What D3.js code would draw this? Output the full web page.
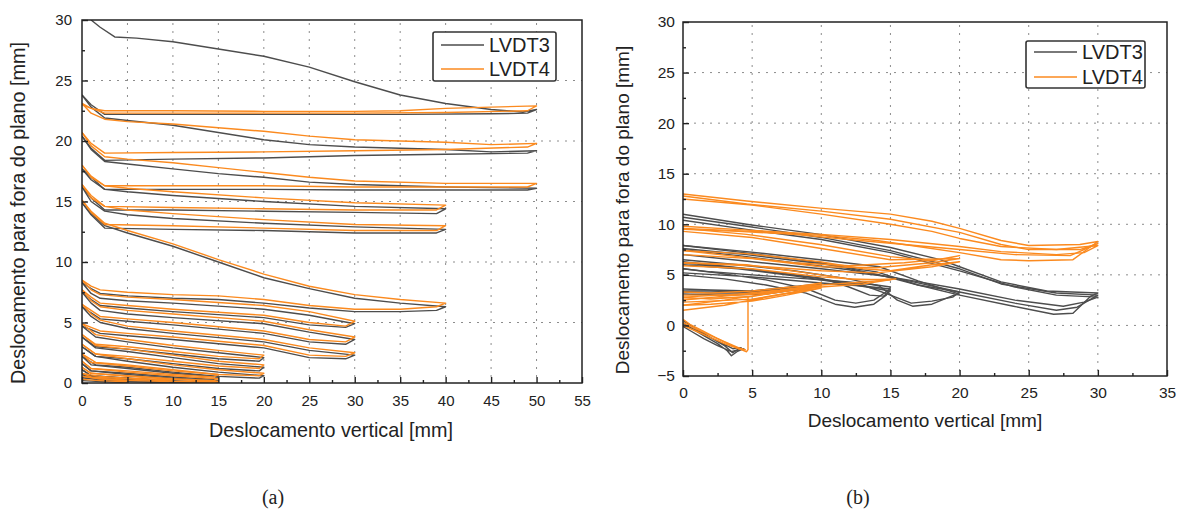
<!DOCTYPE html>
<html>
<head>
<meta charset="utf-8">
<script src="https://cdn.jsdelivr.net/npm/d3@7"></script>
<style>
  html, body { margin: 0; padding: 0; background: #fff; }
  svg { display: block; }
  text { font-family: "Liberation Sans", Arial, sans-serif; fill: #222; }
  .caption { font-family: "Liberation Serif", "Times New Roman", serif; }
</style>
</head>
<body>
<svg id="fig" width="1184" height="514"></svg>
<script>
// ---- Panel (a): out-of-plane vs vertical displacement, cycles up to 50 mm ----
const seriesNames = ["LVDT3", "LVDT4"];
const xTicksA = [0, 5, 10, 15, 20, 25, 30, 35, 40, 45, 50, 55];
const yTicksA = [0, 5, 10, 15, 20, 25, 30];
const xTicksB = [0, 5, 10, 15, 20, 25, 30, 35];
const yTicksB = [-5, 0, 5, 10, 15, 20, 25, 30];

// LVDT3, panel (a): one polyline per loading cycle, [vertical, out-of-plane] in mm
const a3_50 = [
  [[1,30],[2,29.4],[3.6,28.6],[6,28.5],[10,28.2],[15,27.6],[20,27.0],[25,26.1],[30,24.9],[35,23.8],[40,23.1],[45,22.6],[48.5,22.4],[50,22.6],[49,22.3],[45,22.25],[35,22.2],[20,22.2],[5,22.2],[2.5,22.2],[1,23.0],[0,23.8]],
  [[0,23.8],[1,22.8],[2.5,21.9],[5,21.7],[10,21.3],[15,20.7],[20,20.1],[25,19.7],[30,19.5],[40,19.3],[45,19.1],[50,19.2],[49,19.0],[40,18.9],[30,18.8],[20,18.6],[10,18.5],[2.5,18.4],[1,19.4],[0,20.4]],
  [[0,20.4],[1,19.3],[2.5,18.3],[5,18.1],[10,17.7],[15,17.3],[20,17.0],[25,16.6],[30,16.4],[40,16.2],[50,16.1],[49,15.95],[40,15.95],[30,15.95],[20,16.0],[10,16.0],[2.5,16.0],[1,17.0],[0,17.7]]
];
const a3_40 = [
  [[0,17.7],[1,16.8],[2.5,16.0],[5,15.8],[10,15.5],[20,15.0],[30,14.6],[40,14.4],[39,14.0],[30,14.1],[20,14.2],[10,14.3],[2.5,14.3],[1,15.3],[0,16.2]],
  [[0,16.2],[1,15.0],[2.5,14.2],[5,13.9],[10,13.6],[20,13.2],[30,12.9],[40,12.7],[39,12.4],[30,12.4],[20,12.6],[10,12.7],[2.5,12.8],[1,13.9],[0,14.9]],
  [[0,14.9],[1,14.0],[2.5,13.0],[5,12.4],[10,11.3],[15,10.0],[20,8.7],[25,7.8],[30,7.0],[35,6.6],[40,6.3],[39,6.0],[35,5.9],[30,5.9],[25,6.2],[20,6.6],[15,6.9],[10,7.0],[5,7.2],[2,7.4],[1,7.8],[0,8.3]]
];
const a3_30 = [
  [[0,8.3],[1,7.4],[2,7.0],[5,6.8],[10,6.6],[20,6.1],[25,5.6],[30,4.9],[29,4.6],[25,4.8],[20,5.4],[10,5.9],[5,6.2],[2,6.4],[1,6.9],[0,7.5]],
  [[0,7.5],[1,6.6],[2,6.0],[5,5.7],[10,5.4],[20,4.9],[25,4.2],[30,3.6],[29,3.2],[25,3.4],[20,4.1],[10,4.8],[5,5.1],[2,5.3],[1,5.8],[0,6.3]],
  [[0,6.3],[1,5.5],[2,5.0],[5,4.5],[10,4.1],[20,3.4],[25,2.7],[30,2.3],[29,2.0],[25,2.1],[20,2.9],[10,3.6],[5,3.9],[2,4.1],[1,4.4],[0,4.7]]
];
const a3_20 = [
  [[0,4.7],[1.5,3.8],[5,3.4],[10,2.9],[15,2.5],[20,2.1],[19.5,1.8],[15,2.0],[10,2.4],[5,2.8],[1.5,3.0],[0,3.8]],
  [[0,3.8],[1.5,2.9],[5,2.6],[10,2.1],[15,1.6],[20,1.3],[19.5,1.0],[15,1.2],[10,1.6],[5,2.0],[1.5,2.2],[0,3.0]],
  [[0,3.0],[1.5,2.2],[5,1.8],[10,1.3],[15,0.9],[20,0.6],[19.5,0.4],[15,0.55],[10,0.9],[5,1.3],[1.5,1.5],[0,2.2]]
];
const a3_15 = [
  [[0,2.2],[1,1.5],[5,1.2],[10,0.8],[15,0.5],[14.5,0.3],[10,0.5],[5,0.8],[1,1.0],[0,1.6]],
  [[0,1.6],[1,1.0],[5,0.7],[10,0.4],[15,0.2],[14.5,0.05],[10,0.2],[5,0.4],[1,0.6],[0,1.1]],
  [[0,1.1],[1,0.6],[5,0.4],[10,0.15],[15,0.02],[14.5,-0.05],[10,0.05],[5,0.2],[1,0.4],[0,0.7]],
  [[0,0.7],[2,0.45],[5,0.3],[10,0.1],[9.5,0.02],[5,0.12],[2,0.25],[0,0.45]],
  [[0,0.45],[2,0.3],[5,0.12],[4.8,0.04],[2,0.12],[0,0.2]]
];

// LVDT4, panel (a)
const a4_50 = [
  [[0,23.0],[1,22.7],[2.5,22.5],[10,22.5],[20,22.45],[30,22.45],[35,22.5],[40,22.7],[45,22.8],[50,22.9],[49,22.5],[40,22.35],[30,22.3],[20,22.3],[10,22.3],[2.5,22.3],[1,22.7],[0,23.1]],
  [[0,23.1],[1,22.3],[2.5,21.8],[5,21.6],[10,21.4],[15,21.1],[20,20.8],[25,20.4],[30,20.1],[40,19.9],[45,19.7],[50,19.8],[49,19.5],[40,19.3],[30,19.2],[20,19.1],[10,19.05],[2.5,19.0],[1,19.8],[0,20.7]],
  [[0,20.7],[1,19.6],[2.5,18.7],[5,18.5],[10,18.2],[15,17.8],[20,17.4],[25,17.0],[30,16.7],[40,16.5],[50,16.5],[49,16.2],[40,16.2],[30,16.2],[20,16.3],[10,16.3],[2.5,16.3],[1,17.1],[0,18.0]]
];
const a4_40 = [
  [[0,18.0],[1,17.0],[2.5,16.3],[5,16.1],[10,15.8],[20,15.3],[30,14.9],[40,14.7],[39,14.3],[30,14.3],[20,14.4],[10,14.5],[2.5,14.6],[1,15.5],[0,16.4]],
  [[0,16.4],[1,15.3],[2.5,14.6],[5,14.3],[10,14.0],[20,13.5],[30,13.1],[40,13.0],[39,12.6],[30,12.6],[20,12.8],[10,13.0],[2.5,13.1],[1,14.1],[0,15.1]],
  [[0,15.1],[1,14.2],[2.5,13.2],[5,12.6],[10,11.5],[15,10.2],[20,9.0],[25,8.0],[30,7.3],[35,6.9],[40,6.6],[39,6.3],[35,6.1],[30,6.1],[25,6.4],[20,6.9],[15,7.2],[10,7.3],[5,7.5],[2,7.7],[1,8.0],[0,8.5]]
];
const a4_30 = [
  [[0,8.5],[1,7.7],[2,7.3],[5,7.1],[10,6.9],[20,6.4],[25,5.9],[30,5.1],[29,4.7],[25,5.0],[20,5.6],[10,6.1],[5,6.4],[2,6.6],[1,7.1],[0,7.7]],
  [[0,7.7],[1,6.8],[2,6.3],[5,6.0],[10,5.7],[20,5.1],[25,4.4],[30,3.8],[29,3.4],[25,3.6],[20,4.3],[10,5.0],[5,5.3],[2,5.5],[1,6.0],[0,6.5]],
  [[0,6.5],[1,5.7],[2,5.2],[5,4.7],[10,4.3],[20,3.6],[25,2.9],[30,2.5],[29,2.2],[25,2.3],[20,3.1],[10,3.8],[5,4.1],[2,4.3],[1,4.6],[0,4.9]]
];
const a4_20 = [
  [[0,4.9],[1.5,4.0],[5,3.6],[10,3.1],[15,2.7],[20,2.3],[19.5,2.0],[15,2.2],[10,2.6],[5,3.0],[1.5,3.2],[0,4.0]],
  [[0,4.0],[1.5,3.1],[5,2.8],[10,2.3],[15,1.8],[20,1.5],[19.5,1.2],[15,1.4],[10,1.8],[5,2.2],[1.5,2.4],[0,3.2]],
  [[0,3.2],[1.5,2.4],[5,2.0],[10,1.5],[15,1.1],[20,0.8],[19.5,0.6],[15,0.7],[10,1.1],[5,1.5],[1.5,1.7],[0,2.4]]
];
const a4_15 = [
  [[0,2.4],[1,1.7],[5,1.4],[10,1.0],[15,0.7],[14.5,0.5],[10,0.7],[5,1.0],[1,1.2],[0,1.8]],
  [[0,1.8],[1,1.2],[5,0.9],[10,0.6],[15,0.35],[14.5,0.2],[10,0.35],[5,0.6],[1,0.8],[0,1.3]],
  [[0,1.3],[1,0.8],[5,0.55],[10,0.3],[15,0.12],[14.5,0.05],[10,0.15],[5,0.35],[1,0.5],[0,0.8]],
  [[0,0.8],[2,0.55],[5,0.4],[10,0.25],[9.5,0.12],[5,0.22],[2,0.35],[0,0.55]],
  [[0,0.55],[2,0.35],[5,0.2],[4.8,0.1],[2,0.2],[0,0.3]]
];

// ---- Panel (b): cycles up to 30 mm ----
const b3_05 = [
  [[0,0.3],[0.5,-0.2],[1.5,-1.0],[2.5,-1.8],[3.2,-2.5],[3.5,-3.0],[3.9,-2.6],[4.4,-2.3],[4.0,-2.4],[3.5,-2.6],[2.5,-2.0],[1.5,-1.3],[0.5,-0.5],[0,-0.1]],
  [[0,0.5],[1,-0.4],[2,-1.2],[3,-2.0],[3.6,-2.7],[4.2,-2.2],[3.6,-2.3],[2.6,-1.6],[1.5,-0.9],[0.5,-0.2],[0,0.1]]
];
const b3_10 = [
  [[0,3.4],[2,3.4],[4.6,3.3],[7,3.6],[10,4.0],[9,3.7],[6,3.1],[3,3.0],[0,3.1]],
  [[0,3.3],[2,3.2],[5,3.2],[8,3.8],[10,4.1],[8.5,3.9],[5,3.4],[2,3.5],[0,3.6]]
];
const b3_15 = [
  [[0,5.0],[3,4.6],[6,4.0],[8.9,3.2],[11,2.1],[12.4,1.8],[13.8,2.1],[14.7,3.0],[15,3.8],[14,4.0],[12,4.3],[9,4.6],[5,5.0],[2,5.3],[0,5.6]],
  [[0,5.6],[3,5.1],[6,4.5],[9,3.6],[11,2.5],[12.5,2.2],[13.8,2.5],[15,3.6],[13,3.9],[10,4.2],[5,4.8],[0,5.2]],
  [[0,6.2],[4.6,5.6],[9.9,4.7],[12,3.8],[13.5,3.0],[14.5,2.9],[15,3.4],[12,4.1],[8,4.9],[4,5.6],[0,6.0]]
];
const b3_20 = [
  [[0,7.9],[4.6,7.3],[9.9,6.5],[14.2,5.8],[17,4.4],[20,3.1],[19.6,3.0],[18,2.1],[16.6,1.9],[15.5,2.5],[14.2,3.9],[12,4.6],[8,5.4],[4,6.0],[0,6.5]],
  [[0,7.6],[4.6,7.0],[10,6.1],[14,5.3],[17,4.0],[20,3.3],[19.5,2.8],[18,2.4],[16.5,2.2],[15,3.0],[13,4.0],[8,5.0],[4,5.7],[0,6.3]]
];
const b3_30 = [
  [[0,11.0],[4.6,10.0],[9.9,9.0],[15,7.7],[18.6,6.5],[20,5.8],[23,4.3],[26.3,3.4],[30,3.2],[29.5,2.9],[28.5,1.6],[28.2,1.2],[26.8,1.1],[23.9,1.9],[20,3.0],[17,4.0],[14.2,5.0],[10,6.2],[5,7.1],[0,7.9]],
  [[0,10.7],[4.6,9.8],[10,8.7],[15,7.4],[20,5.6],[23,4.1],[27,3.2],[30,3.0],[29.5,2.6],[28.5,1.8],[27,1.5],[24,2.2],[20,3.3],[16,4.5],[12,5.5],[8,6.2],[4,6.9],[0,7.5]],
  [[0,10.4],[4.6,9.5],[10,8.5],[15,7.2],[20,5.4],[24,3.8],[27,3.0],[30,2.8],[29,2.3],[27.5,1.9],[24,2.5],[20,3.6],[15,4.8],[10,5.6],[5,6.3],[0,7.0]]
];

const b4_05 = [
  [[0,0.6],[0.5,0.1],[1.5,-0.6],[2.5,-1.3],[3.5,-2.0],[4.2,-2.4],[4.6,-2.6],[4.7,-2.4],[4.7,0.0],[4.7,2.8]],
  [[0,0.3],[1,-0.4],[2,-1.0],[3,-1.6],[4,-2.2],[4.5,-2.4],[4.0,-2.3],[3,-1.8],[2,-1.2],[1,-0.6],[0,0.0]]
];
const b4_10 = [
  [[0,2.6],[2,2.7],[4.7,2.8],[7,3.3],[10,4.0],[9,3.8],[6,3.1],[3,2.5],[0,2.0]],
  [[0,2.0],[2,2.1],[5,2.4],[7.5,3.0],[10,3.7],[9,3.5],[6,2.8],[3,2.0],[0,1.5]],
  [[0,3.0],[2,3.0],[5,3.1],[8,3.6],[10,4.2],[8.5,3.9],[5,3.4],[2,3.2],[0,3.3]],
  [[0,2.3],[2,2.4],[5,2.6],[8,3.3],[10,3.9],[8,3.5],[5,2.9],[2,2.6],[0,2.8]]
];
const b4_15 = [
  [[0,6.2],[4.6,6.0],[10,5.0],[12,4.6],[15,4.5],[13,4.3],[10,4.0],[7,3.5],[4,3.1],[0,2.8]],
  [[0,5.9],[5,5.6],[10,4.8],[13,4.5],[15.4,4.6],[13,4.1],[10,3.8],[6,3.2],[3,2.9],[0,2.5]]
];
const b4_20 = [
  [[0,9.6],[4.6,9.0],[9.9,8.0],[15,6.8],[18,6.4],[20,6.9],[19,6.6],[16,6.2],[12,5.9],[8,6.2],[4,6.8],[0,7.4]],
  [[0,9.3],[5,8.7],[10,7.6],[15,6.5],[20,6.6],[18,6.2],[14,5.7],[10,5.8],[5,6.6],[0,7.0]],
  [[0,7.4],[4.6,7.1],[9.9,6.3],[13,5.6],[15,5.4],[18,6.0],[20,6.3],[18,5.8],[14,5.2],[10,5.4],[5,5.9],[0,6.2]]
];
const b4_30 = [
  [[0,13.0],[4.6,12.3],[9.9,11.6],[15,11.0],[18,10.3],[20,9.6],[23,8.4],[25,7.9],[28.7,8.0],[30,8.3],[29.5,7.8],[28.2,6.5],[25,6.4],[23,6.5],[20,7.2],[17,7.8],[14,8.4],[10,8.9],[5,9.3],[0,9.6]],
  [[0,12.8],[4.6,12.0],[10,11.3],[15,10.5],[20,9.2],[23,8.0],[25,7.5],[28.7,7.5],[30,8.1],[29,7.5],[28,6.9],[24,7.0],[20,7.5],[16,8.0],[12,8.5],[8,9.0],[4,9.3],[0,9.5]],
  [[0,12.5],[5,11.9],[10,11.0],[15,10.0],[18,9.3],[20,8.6],[23,7.8],[27,7.5],[30,7.9],[29,7.2],[27,7.0],[23,7.3],[20,7.8],[15,8.5],[10,9.0],[5,9.4],[0,9.8]]
];

const colors = { LVDT3: "#4d4d4d", LVDT4: "#fb8a1f" };

const svg = d3.select("#fig");

function panel(cfg) {
  const x = d3.scaleLinear().domain(cfg.xDomain).range([cfg.left, cfg.right]);
  const y = d3.scaleLinear().domain(cfg.yDomain).range([cfg.bottom, cfg.top]);
  const g = svg.append("g");
  const clipId = "clip-" + cfg.id;
  g.append("clipPath").attr("id", clipId).append("rect")
    .attr("x", cfg.left).attr("y", cfg.top)
    .attr("width", cfg.right - cfg.left).attr("height", cfg.bottom - cfg.top);

  // dotted grid at the major ticks
  const grid = g.append("g").attr("stroke", "#8c8c8c").attr("stroke-width", 1)
    .attr("stroke-dasharray", "2,6");
  grid.selectAll("line.v").data(cfg.xTicks.filter(v => v > cfg.xDomain[0] && v < cfg.xDomain[1]))
    .join("line").attr("class", "v")
    .attr("x1", d => x(d)).attr("x2", d => x(d)).attr("y1", cfg.top + 3).attr("y2", cfg.bottom);
  grid.selectAll("line.h").data(cfg.yTicks.filter(v => v > cfg.yDomain[0] && v < cfg.yDomain[1]))
    .join("line").attr("class", "h")
    .attr("y1", d => y(d)).attr("y2", d => y(d)).attr("x1", cfg.left + 3).attr("x2", cfg.right);

  // data curves
  const line = d3.line().x(d => x(d[0])).y(d => y(d[1]));
  const plot = g.append("g").attr("clip-path", `url(#${clipId})`);
  cfg.series.forEach(s => {
    plot.append("g").selectAll("path").data(s.loops).join("path")
      .attr("d", line).attr("fill", "none")
      .attr("stroke", colors[s.name]).attr("stroke-width", 1.4)
      .attr("stroke-linejoin", "round");
  });

  // axes with inward ticks
  const minorX = d3.range(cfg.xDomain[0], cfg.xDomain[1] + 0.001, 2.5).filter(v => !cfg.xTicks.includes(v));
  const minorY = d3.range(cfg.yDomain[0], cfg.yDomain[1] + 0.001, 2.5).filter(v => !cfg.yTicks.includes(v));
  const ax = g.append("g").attr("transform", `translate(0,${cfg.bottom})`)
    .call(d3.axisBottom(x).tickValues(cfg.xTicks).tickSize(-6).tickPadding(cfg.xPad).tickFormat(d3.format("d")));
  const ay = g.append("g").attr("transform", `translate(${cfg.left},0)`)
    .call(d3.axisLeft(y).tickValues(cfg.yTicks).tickSize(-6).tickPadding(cfg.yPad).tickFormat(d3.format("d")));
  const mx = g.append("g").attr("transform", `translate(0,${cfg.bottom})`)
    .call(d3.axisBottom(x).tickValues(minorX).tickSize(-3).tickFormat(""));
  const my = g.append("g").attr("transform", `translate(${cfg.left},0)`)
    .call(d3.axisLeft(y).tickValues(minorY).tickSize(-3).tickFormat(""));
  [ax, ay, mx, my].forEach(a => {
    a.select(".domain").remove();
    a.selectAll("line").attr("stroke", "#222").attr("stroke-width", 1.4);
    a.selectAll("text").attr("font-size", cfg.tickSize).attr("fill", "#2a2a2a")
      .attr("font-family", "'Liberation Sans', Arial, sans-serif");
  });

  // frame
  g.append("rect").attr("x", cfg.left).attr("y", cfg.top)
    .attr("width", cfg.right - cfg.left).attr("height", cfg.bottom - cfg.top)
    .attr("fill", "none").attr("stroke", "#222").attr("stroke-width", 1.5);

  // axis titles
  g.append("text").attr("x", cfg.xTitle[0]).attr("y", cfg.xTitle[1])
    .attr("text-anchor", "middle").attr("font-size", cfg.titleSize)
    .text("Deslocamento vertical [mm]");
  g.append("text").attr("transform", `translate(${cfg.yTitle[0]},${cfg.yTitle[1]}) rotate(-90)`)
    .attr("text-anchor", "middle").attr("font-size", cfg.titleSize)
    .text("Deslocamento para fora do plano [mm]");

  // legend
  const L = cfg.legend;
  const lg = g.append("g");
  lg.append("rect").attr("x", L.x).attr("y", L.y).attr("width", L.w).attr("height", L.h)
    .attr("rx", 2).attr("fill", "#fff").attr("stroke", "#333").attr("stroke-width", 1.6);
  seriesNames.forEach((name, i) => {
    const ly = L.y + L.first + i * L.step;
    lg.append("line").attr("x1", L.x + 8).attr("x2", L.x + 51).attr("y1", ly).attr("y2", ly)
      .attr("stroke", colors[name]).attr("stroke-width", 1.5);
    lg.append("text").attr("x", L.x + 56).attr("y", ly + 7).attr("font-size", 20)
      .attr("fill", "#1e1e1e").text(name);
  });

  // caption
  svg.append("text").attr("class", "caption").attr("x", cfg.caption[0]).attr("y", cfg.caption[1])
    .attr("text-anchor", "middle").attr("font-size", 20).text(cfg.label);
}

panel({
  id: "a", label: "(a)",
  xDomain: [0, 55], yDomain: [0, 30],
  left: 82, right: 582, top: 20, bottom: 383,
  xTicks: xTicksA, yTicks: yTicksA, xPad: 12, yPad: 10, tickSize: 15,
  series: [
    { name: "LVDT3", loops: [...a3_50, ...a3_40, ...a3_30, ...a3_20, ...a3_15] },
    { name: "LVDT4", loops: [...a4_50, ...a4_40, ...a4_30, ...a4_20, ...a4_15] }
  ],
  xTitle: [331, 437], yTitle: [25, 213], titleSize: 19.8,
  legend: { x: 433, y: 32, w: 123, h: 49, first: 13, step: 24 },
  caption: [273, 504]
});

panel({
  id: "b", label: "(b)",
  xDomain: [0, 35], yDomain: [-5, 30],
  left: 683, right: 1167, top: 22, bottom: 376,
  xTicks: xTicksB, yTicks: yTicksB, xPad: 11, yPad: 8, tickSize: 15.5,
  series: [
    { name: "LVDT3", loops: [...b3_05, ...b3_10, ...b3_15, ...b3_20, ...b3_30] },
    { name: "LVDT4", loops: [...b4_05, ...b4_10, ...b4_15, ...b4_20, ...b4_30] }
  ],
  xTitle: [925, 427], yTitle: [629, 210], titleSize: 19,
  legend: { x: 1026, y: 41, w: 119, h: 47, first: 11, step: 25 },
  caption: [858, 504]
});
</script>
</body>
</html>
